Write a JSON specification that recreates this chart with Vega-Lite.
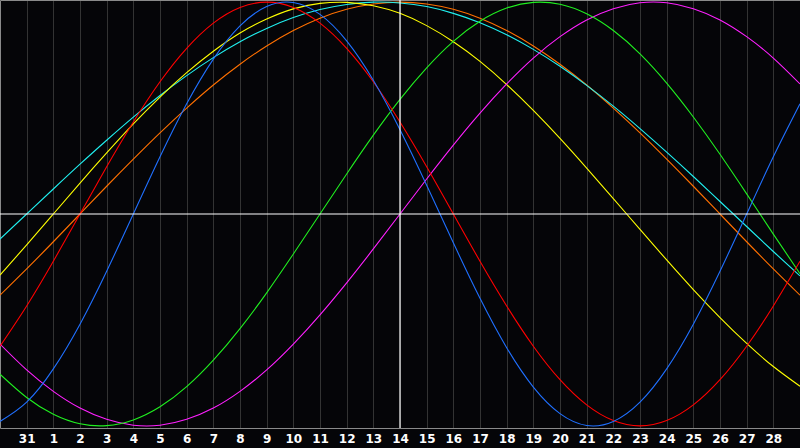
{
  "$schema": "https://vega.github.io/schema/vega-lite/v6.json",
  "width": 800,
  "height": 428,
  "autosize": "none",
  "padding": {"left": 0, "top": 0, "right": 0, "bottom": 20},
  "background": "#050508",
  "config": {"view": {"stroke": null}},
  "data": {
    "values": [
      {"t": 0, "Physical": -0.979, "Emotional": -0.624, "Intellectual": -0.756, "Intuitive": -0.614, "Aesthetic": -0.288, "Awareness": -0.383, "Spiritual": -0.118},
      {"t": 1, "Physical": -0.888, "Emotional": -0.434, "Intellectual": -0.866, "Intuitive": -0.736, "Aesthetic": -0.146, "Awareness": -0.259, "Spiritual": 0},
      {"t": 2, "Physical": -0.731, "Emotional": -0.223, "Intellectual": -0.945, "Intuitive": -0.837, "Aesthetic": 0, "Awareness": -0.131, "Spiritual": 0.118},
      {"t": 3, "Physical": -0.520, "Emotional": 0, "Intellectual": -0.990, "Intuitive": -0.916, "Aesthetic": 0.146, "Awareness": 0, "Spiritual": 0.235},
      {"t": 4, "Physical": -0.270, "Emotional": 0.223, "Intellectual": -0.999, "Intuitive": -0.969, "Aesthetic": 0.288, "Awareness": 0.131, "Spiritual": 0.348},
      {"t": 5, "Physical": 0, "Emotional": 0.434, "Intellectual": -0.972, "Intuitive": -0.997, "Aesthetic": 0.425, "Awareness": 0.259, "Spiritual": 0.457},
      {"t": 6, "Physical": 0.270, "Emotional": 0.624, "Intellectual": -0.910, "Intuitive": -0.997, "Aesthetic": 0.552, "Awareness": 0.383, "Spiritual": 0.559},
      {"t": 7, "Physical": 0.520, "Emotional": 0.782, "Intellectual": -0.815, "Intuitive": -0.969, "Aesthetic": 0.667, "Awareness": 0.5, "Spiritual": 0.653},
      {"t": 8, "Physical": 0.731, "Emotional": 0.901, "Intellectual": -0.690, "Intuitive": -0.916, "Aesthetic": 0.768, "Awareness": 0.609, "Spiritual": 0.738},
      {"t": 9, "Physical": 0.888, "Emotional": 0.975, "Intellectual": -0.541, "Intuitive": -0.837, "Aesthetic": 0.854, "Awareness": 0.707, "Spiritual": 0.813},
      {"t": 10, "Physical": 0.979, "Emotional": 1, "Intellectual": -0.372, "Intuitive": -0.736, "Aesthetic": 0.920, "Awareness": 0.793, "Spiritual": 0.876},
      {"t": 11, "Physical": 0.998, "Emotional": 0.975, "Intellectual": -0.189, "Intuitive": -0.614, "Aesthetic": 0.968, "Awareness": 0.866, "Spiritual": 0.927},
      {"t": 12, "Physical": 0.942, "Emotional": 0.901, "Intellectual": 0, "Intuitive": -0.476, "Aesthetic": 0.994, "Awareness": 0.924, "Spiritual": 0.965},
      {"t": 13, "Physical": 0.817, "Emotional": 0.782, "Intellectual": 0.189, "Intuitive": -0.325, "Aesthetic": 0.999, "Awareness": 0.966, "Spiritual": 0.989},
      {"t": 14, "Physical": 0.631, "Emotional": 0.624, "Intellectual": 0.372, "Intuitive": -0.165, "Aesthetic": 0.983, "Awareness": 0.991, "Spiritual": 1.0},
      {"t": 15, "Physical": 0.398, "Emotional": 0.434, "Intellectual": 0.541, "Intuitive": 0, "Aesthetic": 0.947, "Awareness": 1, "Spiritual": 0.996},
      {"t": 16, "Physical": 0.136, "Emotional": 0.223, "Intellectual": 0.690, "Intuitive": 0.165, "Aesthetic": 0.889, "Awareness": 0.991, "Spiritual": 0.979},
      {"t": 17, "Physical": -0.136, "Emotional": 0, "Intellectual": 0.815, "Intuitive": 0.325, "Aesthetic": 0.813, "Awareness": 0.966, "Spiritual": 0.947},
      {"t": 18, "Physical": -0.398, "Emotional": -0.223, "Intellectual": 0.910, "Intuitive": 0.476, "Aesthetic": 0.720, "Awareness": 0.924, "Spiritual": 0.903},
      {"t": 19, "Physical": -0.631, "Emotional": -0.434, "Intellectual": 0.972, "Intuitive": 0.614, "Aesthetic": 0.611, "Awareness": 0.866, "Spiritual": 0.846},
      {"t": 20, "Physical": -0.817, "Emotional": -0.624, "Intellectual": 0.999, "Intuitive": 0.736, "Aesthetic": 0.489, "Awareness": 0.793, "Spiritual": 0.777},
      {"t": 21, "Physical": -0.942, "Emotional": -0.782, "Intellectual": 0.990, "Intuitive": 0.837, "Aesthetic": 0.357, "Awareness": 0.707, "Spiritual": 0.697},
      {"t": 22, "Physical": -0.998, "Emotional": -0.901, "Intellectual": 0.945, "Intuitive": 0.916, "Aesthetic": 0.217, "Awareness": 0.609, "Spiritual": 0.607},
      {"t": 23, "Physical": -0.979, "Emotional": -0.975, "Intellectual": 0.866, "Intuitive": 0.969, "Aesthetic": 0.073, "Awareness": 0.5, "Spiritual": 0.509},
      {"t": 24, "Physical": -0.888, "Emotional": -1, "Intellectual": 0.756, "Intuitive": 0.997, "Aesthetic": -0.073, "Awareness": 0.383, "Spiritual": 0.403},
      {"t": 25, "Physical": -0.731, "Emotional": -0.975, "Intellectual": 0.618, "Intuitive": 0.997, "Aesthetic": -0.217, "Awareness": 0.259, "Spiritual": 0.292},
      {"t": 26, "Physical": -0.520, "Emotional": -0.901, "Intellectual": 0.458, "Intuitive": 0.969, "Aesthetic": -0.357, "Awareness": 0.131, "Spiritual": 0.177},
      {"t": 27, "Physical": -0.270, "Emotional": -0.782, "Intellectual": 0.282, "Intuitive": 0.916, "Aesthetic": -0.489, "Awareness": 0, "Spiritual": 0.059},
      {"t": 28, "Physical": 0, "Emotional": -0.624, "Intellectual": 0.095, "Intuitive": 0.837, "Aesthetic": -0.611, "Awareness": -0.131, "Spiritual": -0.059},
      {"t": 29, "Physical": 0.270, "Emotional": -0.434, "Intellectual": -0.095, "Intuitive": 0.736, "Aesthetic": -0.720, "Awareness": -0.259, "Spiritual": -0.177},
      {"t": 30, "Physical": 0.520, "Emotional": -0.223, "Intellectual": -0.282, "Intuitive": 0.614, "Aesthetic": -0.813, "Awareness": -0.383, "Spiritual": -0.292}
    ]
  },
  "resolve": {"axis": {"x": "independent"}},
  "layer": [
    {
      "transform": [{"fold": ["Awareness", "Spiritual", "Aesthetic", "Intuitive", "Intellectual", "Emotional", "Physical"], "as": ["series", "v"]}],
      "mark": {"type": "line", "strokeWidth": 1.1, "interpolate": "natural"},
      "encoding": {
        "x": {
          "field": "t", "type": "quantitative",
          "scale": {"domain": [0, 30], "nice": false, "zero": false},
          "axis": {
            "orient": "bottom", "values": [1,2,3,4,5,6,7,8,9,10,11,12,13,14,15,16,17,18,19,20,21,22,23,24,25,26,27,28,29],
            "title": null, "ticks": false, "grid": true, "gridColor": "#333333", "gridWidth": 1,
            "domain": true, "domainColor": "#8a8a8a", "domainWidth": 1,
            "labelExpr": "datum.value == 1 ? '31' : '' + (datum.value - 1)",
            "labelColor": "#ffffff", "labelFont": "DejaVu Sans", "labelFontWeight": "bold", "labelFontSize": 12,
            "labelPadding": 5, "labelFlush": false, "labelOverlap": false
          }
        },
        "y": {
          "field": "v", "type": "quantitative",
          "scale": {"domain": [-1.01, 1.01], "nice": false, "zero": false},
          "axis": {"title": null, "labels": false, "ticks": false, "grid": false, "domain": true, "domainColor": "#8a8a8a"}
        },
        "color": {
          "field": "series", "type": "nominal", "legend": null,
          "scale": {
            "domain": ["Awareness", "Spiritual", "Aesthetic", "Intuitive", "Intellectual", "Emotional", "Physical"],
            "range": ["#ff7000", "#20f0f0", "#ffff00", "#ff20ff", "#20f020", "#ff0000", "#2070ff"]
          }
        }
      }
    },
    {
      "data": {"values": [{"c": 15}]},
      "mark": {"type": "rule", "color": "#ffffff", "strokeWidth": 1.2},
      "encoding": {
        "x": {
          "field": "c", "type": "quantitative",
          "axis": {"orient": "top", "title": null, "labels": false, "ticks": false, "grid": false, "domain": true, "domainColor": "#8a8a8a"}
        }
      }
    },
    {
      "data": {"values": [{"z": 0}]},
      "mark": {"type": "rule", "color": "#ffffff", "strokeWidth": 1.2},
      "encoding": {"y": {"field": "z", "type": "quantitative"}}
    }
  ]
}
